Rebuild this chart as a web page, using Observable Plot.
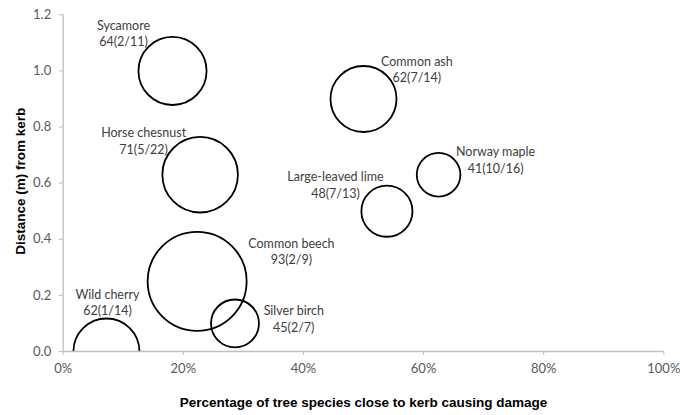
<!DOCTYPE html>
<html>
<head>
<meta charset="utf-8">
<script src="https://cdn.jsdelivr.net/npm/d3@7"></script>
<script src="https://cdn.jsdelivr.net/npm/@observablehq/plot@0.6"></script>
<style>
  html, body { margin: 0; padding: 0; background: #fff; }
</style>
</head>
<body>
<div id="chart"></div>
<script>
// ---- data ----
const species = ["Sycamore", "Horse chesnust", "Common ash", "Norway maple", "Large-leaved lime", "Common beech", "Silver birch", "Wild cherry"];
const pctDamage = [0.182, 0.228, 0.500, 0.625, 0.539, 0.223, 0.286, 0.072];
const distance = [1.00, 0.63, 0.90, 0.63, 0.50, 0.25, 0.10, 0.00];
const bubbleSize = [64, 71, 62, 41, 48, 93, 45, 62];
const counts = ["2/11", "5/22", "7/14", "10/16", "7/13", "2/9", "2/7", "1/14"];
const xTicks = [0, 0.2, 0.4, 0.6, 0.8, 1.0];
const yTicks = [0, 0.2, 0.4, 0.6, 0.8, 1.0, 1.2];

// ---- label layout (pixel offsets from bubble centre) ----
const labelDx = [-49, -56.5, 53.4, 57, -51.5, 94.3, 58.8, 1];
const labelDy = [-45, -41.5, -37.3, -22.5, -34, -37.5, -12, -56.7];
const lineGap = 16.5;

const data = species.map((s, i) => ({
  species: s, x: pctDamage[i], y: distance[i], size: bubbleSize[i],
  label2: `${bubbleSize[i]}(${counts[i]})`, i
}));

const labelFont = "Lato, 'Open Sans', sans-serif";
const labelMarks = data.flatMap(d => [
  Plot.text([d], {x: "x", y: "y", text: "species", dx: labelDx[d.i], dy: labelDy[d.i],
    fontSize: 12.5, fill: "#404040", fontFamily: labelFont}),
  Plot.text([d], {x: "x", y: "y", text: "label2", dx: labelDx[d.i], dy: labelDy[d.i] + lineGap,
    fontSize: 12.5, fill: "#404040", fontFamily: labelFont})
]);

const chart = Plot.plot({
  width: 680,
  height: 415,
  marginLeft: 62.7,
  marginRight: 16.7,
  marginTop: 14.3,
  marginBottom: 64,
  style: {fontFamily: labelFont, background: "#fff"},
  x: {domain: [0, 1]},
  y: {domain: [0, 1.2]},
  r: {type: "linear", domain: [0, 93], range: [0, 49.5]},
  marks: [
    Plot.dot(data, {x: "x", y: "y", r: "size", stroke: "#000", strokeWidth: 1.8, fill: "none", clip: true}),
    Plot.ruleY([0], {stroke: "#bfbfbf", strokeWidth: 1.3}),
    Plot.ruleX([0], {stroke: "#bfbfbf", strokeWidth: 1.3}),
    Plot.axisX(xTicks, {tickFormat: d3.format(".0%"), tickSize: 4, tickPadding: 8, stroke: "#bfbfbf",
      fill: "#595959", fontSize: 13, label: null}),
    Plot.axisY(yTicks, {tickFormat: d3.format(".1f"), tickSize: 4, tickPadding: 8, stroke: "#bfbfbf",
      fill: "#595959", fontSize: 13, label: null}),
    ...labelMarks,
    Plot.text(["Percentage of tree species close to kerb causing damage"], {
      frameAnchor: "bottom", dy: 55, fontWeight: "bold", fontSize: 13.5,
      fontFamily: "'Liberation Sans', Arial, sans-serif", fill: "#000"}),
    Plot.text(["Distance (m) from kerb"], {
      frameAnchor: "left", textAnchor: "middle", dx: -42.7, dy: -2, rotate: -90, fontWeight: "bold", fontSize: 13.5,
      fontFamily: "'Liberation Sans', Arial, sans-serif", fill: "#000"})
  ]
});
document.getElementById("chart").appendChild(chart);
</script>
</body>
</html>
